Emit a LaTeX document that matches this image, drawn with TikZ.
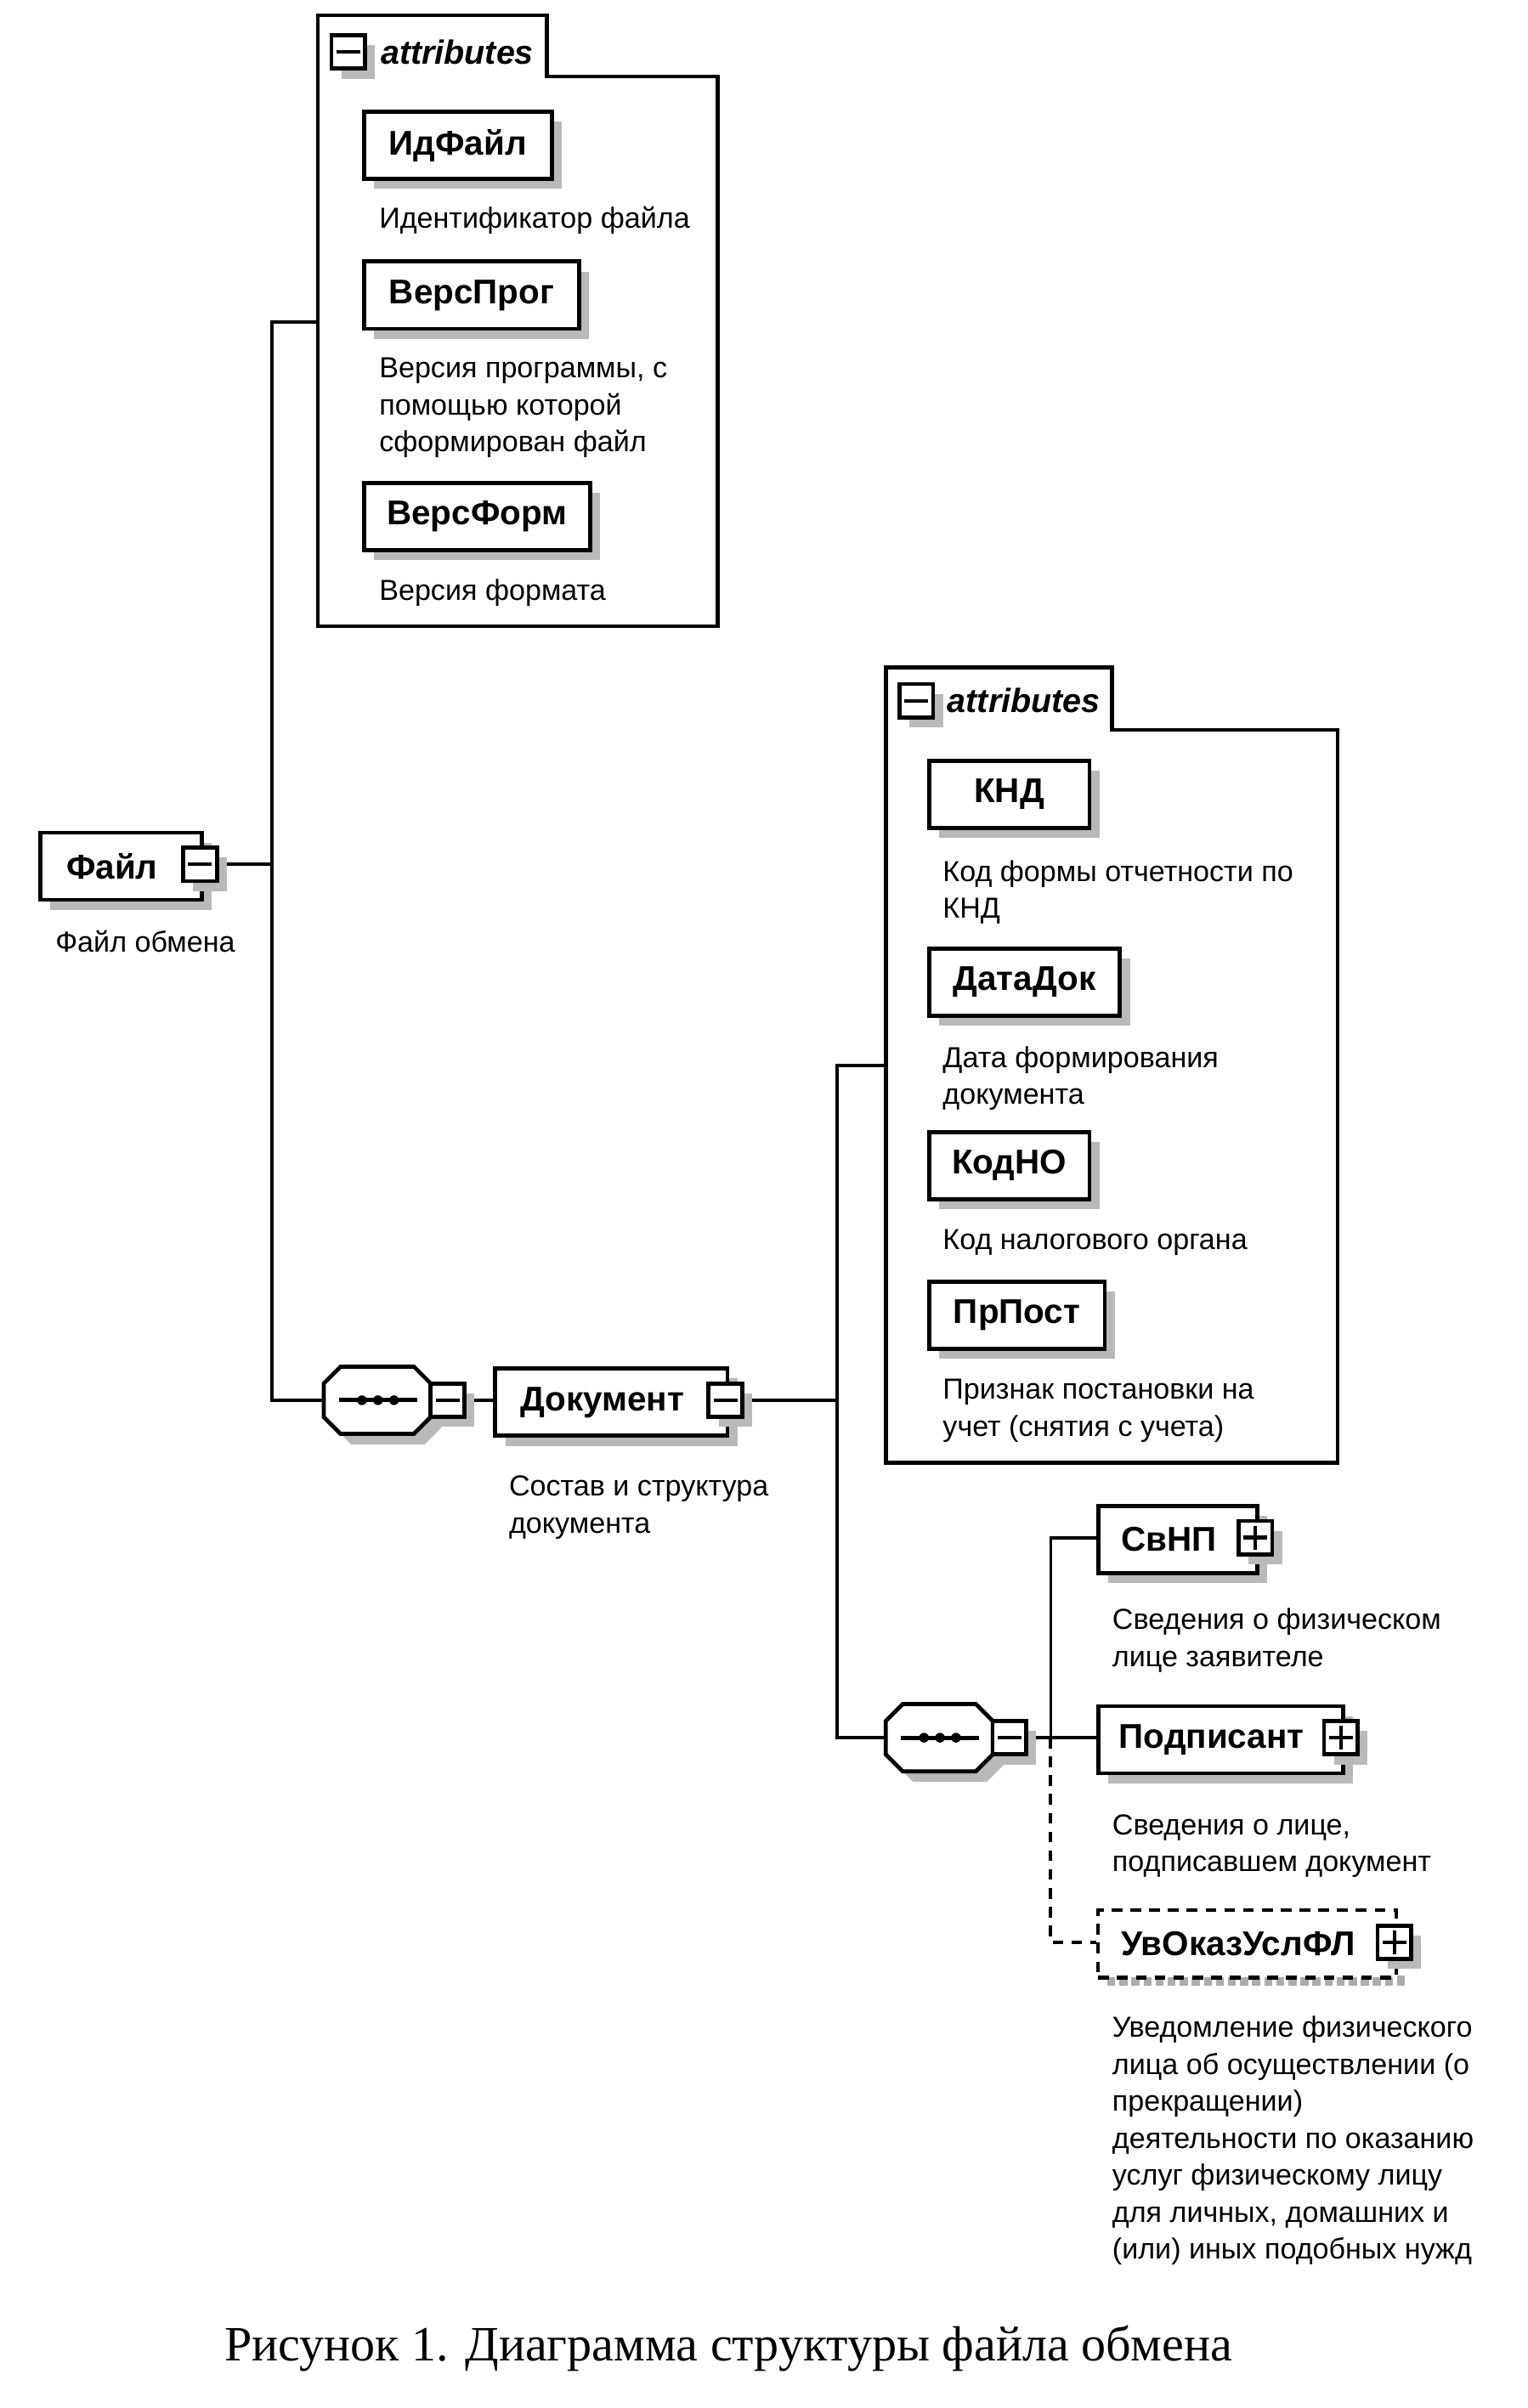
\documentclass[tikz,border=0pt]{standalone}
\usepackage{fontspec}
\setmainfont{Liberation Serif}
\newfontfamily\dsans{Liberation Sans}
\usetikzlibrary{shadows}
\tikzset{
 conn/.style={line width=1.2pt},
 boxline/.style={line width=1.5pt},
 shadowc/.style={fill=gray!55},
 shad/.style={drop shadow={shadow xshift=0.13cm, shadow yshift=-0.13cm, opacity=1, fill=gray!55}},
 elembox/.style={draw, boxline, fill=white, shad, minimum height=0.88cm, inner sep=0pt, font=\dsans\bfseries\fontsize{12.8}{14}\selectfont},
 elemtxt/.style={inner sep=0pt, font=\dsans\bfseries\fontsize{12.8}{14}\selectfont},
 ico/.style={draw, line width=1.5pt, fill=white, shad, minimum size=0.44cm, inner sep=0pt},
 desc/.style={anchor=north west, inner sep=0pt, align=left, font=\dsans\fontsize{10.8}{13.8}\selectfont},
 attrhdr/.style={anchor=west, inner sep=0pt, font=\dsans\bfseries\itshape\fontsize{12.5}{14}\selectfont},
 attrbox/.style={draw, line width=1.4pt, fill=white},
 seqnode/.style={inner sep=0pt, minimum width=1.4cm, minimum height=0.88cm},
 optline/.style={line width=1.3pt, dash pattern=on 4pt off 3pt},
 captxt/.style={inner sep=0pt, font=\fontsize{18.4}{20}\selectfont},
}
\newcommand\IcoM[3]{\node[ico] (#1) at (#2,#3) {};
 \draw[line width=1.4pt] ([xshift=0.09cm]#1.west) -- ([xshift=-0.09cm]#1.east);}
\newcommand\IcoP[3]{\IcoM{#1}{#2}{#3}
 \draw[line width=1.4pt] ([yshift=-0.09cm]#1.north) -- ([yshift=0.09cm]#1.south);}
% element box without icon: name x y w text
\newcommand\ElemN[5]{\node[elembox, minimum width=#4*0.02cm, anchor=north west] (#1) at (#2,#3) {#5};}
% element box with icon: name x y w text M/P
\newcommand\ElemI[6]{\node[elembox, minimum width=#4*0.02cm, anchor=north west] (#1) at (#2,#3) {};
 \node[elemtxt] (#1t) at ([xshift=-0.12cm]#1.center) {#5};
 \csname Ico#6\endcsname{#1i}{#2+#4}{#3+22}}
% sequence octagon: name xleft ycenter
\newcommand\SeqOct[3]{%
 \begin{scope}[shift={(#2,#3)}]
  \fill[shadowc, shift={(7,7)}] (11,-22) -- (59,-22) -- (70,-11) -- (70,11) -- (59,22) -- (11,22) -- (0,11) -- (0,-11) -- cycle;
  \draw[boxline, fill=white] (11,-22) -- (59,-22) -- (70,-11) -- (70,11) -- (59,22) -- (11,22) -- (0,11) -- (0,-11) -- cycle;
  \draw[line width=1.6pt] (10,0) -- (61,0);
  \fill (25,0) circle (3.2) (35.5,0) circle (3.2) (46,0) circle (3.2);
 \end{scope}
 \node[seqnode] (#1) at (#2+35,#3) {};
 \IcoM{#1i}{#2+81}{#3}}
\begin{document}
\begin{tikzpicture}[x=0.02cm, y=-0.02cm]
\useasboundingbox (0,0) rectangle (1000,1577);
\fill[white] (0,0) rectangle (1000,1577);

% ---------- connector points ----------
\coordinate (a1w) at (208,211);
\coordinate (j1a) at (178,211);
\coordinate (j1f) at (178,566);
\coordinate (j1b) at (178,917);
\coordinate (a2w) at (580,698);
\coordinate (j2a) at (548,698);
\coordinate (j2c) at (548,917);
\coordinate (j2b) at (548,1138);
\coordinate (j3a) at (688,1007);
\coordinate (j3b) at (688,1138);
\coordinate (j3c) at (688,1272);

% ---------- attributes box 1 ----------
\draw[attrbox] (208,10) -- (358,10) -- (358,50) -- (470,50) -- (470,410) -- (208,410) -- cycle;
\IcoM{a1i}{228}{34}
\node[attrhdr] (a1t) at (249,34) {attributes};
\ElemN{idf}{237}{72}{123}{ИдФайл}
\node[desc] (idfd) at (248,135) {Идентификатор файла};
\ElemN{vpr}{237}{170}{141}{ВерсПрог}
\node[desc] (vprd) at (248,234) {Версия программы, с\\помощью которой\\сформирован файл};
\ElemN{vfo}{237}{315}{148}{ВерсФорм}
\node[desc] (vfod) at (248,379) {Версия формата};

% ---------- attributes box 2 ----------
\draw[attrbox] (580,437) -- (728,437) -- (728,478) -- (876,478) -- (876,958) -- (580,958) -- cycle;
\IcoM{a2i}{600}{459}
\node[attrhdr] (a2t) at (620,459) {attributes};
\ElemN{knd}{607}{497}{105}{КНД}
\node[desc] (kndd) at (617,563) {Код формы отчетности по\\КНД};
\ElemN{ddk}{607}{620}{125}{ДатаДок}
\node[desc] (ddkd) at (617,685) {Дата формирования\\документа};
\ElemN{kno}{607}{740}{105}{КодНО}
\node[desc] (knod) at (617,805) {Код налогового органа};
\ElemN{prp}{607}{838}{115}{ПрПост}
\node[desc] (prpd) at (617,903) {Признак постановки на\\учет (снятия с учета)};

% ---------- lines ----------
\draw[conn] (a1w) -- (j1a) -- (j1b) -- (212,917);
\draw[conn] (131,566) -- (j1f);
\draw[conn] (a2w) -- (j2a) -- (j2b) -- (580,1138);
\draw[conn] (488,917) -- (j2c);
\draw[conn] (304,917) -- (323,917);
\draw[conn] (670,1138) -- (718,1138);
\draw[conn] (j3b) -- (j3a) -- (718,1007);
\draw[optline] (j3b) -- (j3c) -- (718,1272);

% ---------- Файл ----------
\ElemI{fil}{25}{544}{106}{Файл}{M}
\node[desc] (fild) at (36,609) {Файл обмена};

% ---------- sequence 1 and Документ ----------
\SeqOct{s1}{212}{917}
\ElemI{doc}{323}{895}{152}{Документ}{M}
\node[desc] (docd) at (333,966) {Состав и структура\\документа};

% ---------- sequence 2 and children ----------
\SeqOct{s2}{580}{1138}
\ElemI{svn}{718}{985}{104}{СвНП}{P}
\node[desc] (svnd) at (728,1053) {Сведения о физическом\\лице заявителе};
\ElemI{pod}{718}{1116}{160}{Подписант}{P}
\node[desc] (podd) at (728,1188) {Сведения о лице,\\подписавшем документ};
\draw[gray!65, line width=0.14cm, dash pattern=on 3pt off 1.5pt] (725,1297) -- (920,1297);
\node[draw, optline, fill=white, minimum width=3.9cm, minimum height=0.88cm, anchor=north west, inner sep=0pt] (uvo) at (718,1250) {};
\node[elemtxt] (uvot) at ([xshift=-0.12cm]uvo.center) {УвОказУслФЛ};
\IcoP{uvoi}{913}{1272}
\node[desc] (uvod) at (728,1320) {Уведомление физического\\лица об осуществлении (о\\прекращении)\\деятельности по оказанию\\услуг физическому лицу\\для личных, домашних и\\(или) иных подобных нужд};

% ---------- caption ----------
\node[captxt] (cap) at (477,1538) {Рисунок 1. Диаграмма структуры файла обмена};
\end{tikzpicture}
\end{document}
